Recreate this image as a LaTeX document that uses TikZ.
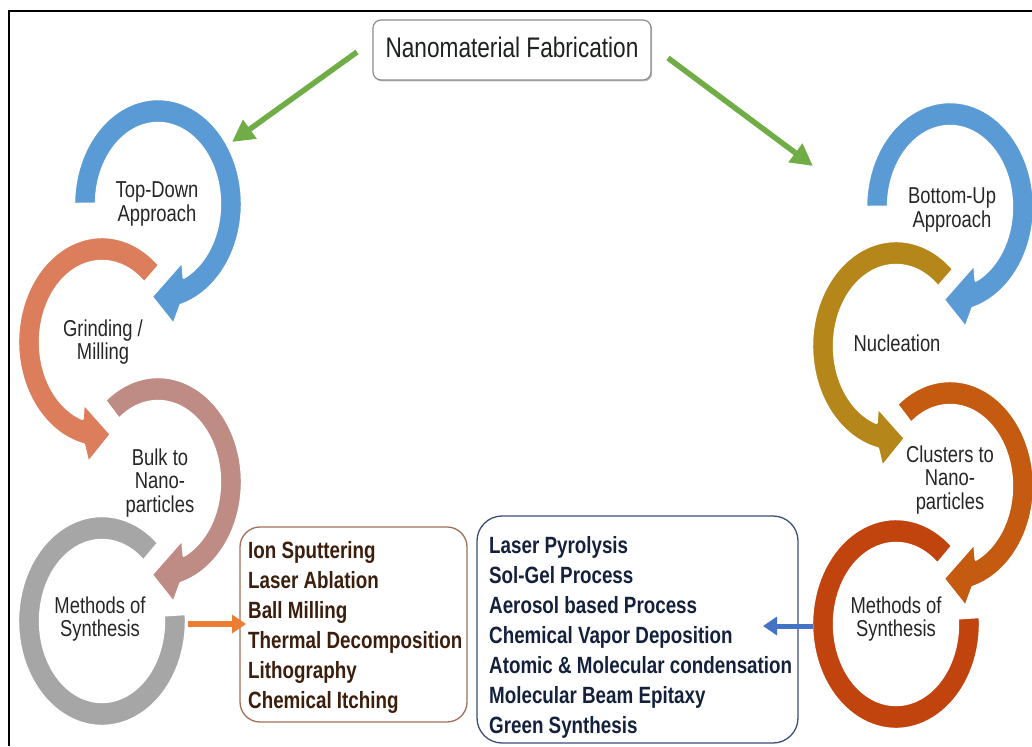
\documentclass[tikz,border=0pt]{standalone}
\usepackage{fontspec}
\setmainfont{Liberation Sans}[FakeStretch=0.8]
\usetikzlibrary{arrows.meta,shadows}
\definecolor{ringblue}{HTML}{5B9BD5}
\definecolor{ringsalmon}{HTML}{DC7D5C}
\definecolor{ringrose}{HTML}{BE8C84}
\definecolor{ringgray}{HTML}{A6A6A6}
\definecolor{ringgold}{HTML}{B5871A}
\definecolor{ringorange}{HTML}{C55A11}
\definecolor{ringred}{HTML}{C1440E}
\definecolor{arrowgreen}{HTML}{70AD47}
\definecolor{arroworange}{HTML}{ED7D31}
\definecolor{arrowblue}{HTML}{4472C4}
\definecolor{labeltext}{HTML}{262626}
\definecolor{titletext}{HTML}{1E221E}
\definecolor{titleframe}{HTML}{8C8C8C}
\definecolor{lboxframe}{HTML}{A0705A}
\definecolor{lboxtext}{HTML}{3C1E0C}
\definecolor{rboxframe}{HTML}{3B4E78}
\definecolor{rboxtext}{HTML}{14213D}
\tikzset{
  ringshape/.style={draw=white, line width=2.4pt, line join=round},
  ringtext/.style={font=\fontsize{23}{23.5}\selectfont, align=center, text=labeltext, inner sep=0pt},
  titlebox/.style={draw=titleframe, line width=1.2pt, rounded corners=8pt, fill=white,
    minimum width=278pt, minimum height=60pt, inner sep=0pt, text depth=6pt,
    font=\fontsize{28.3}{30}\selectfont, text=titletext,
    drop shadow={shadow xshift=1.2pt, shadow yshift=-1.5pt, fill=black, opacity=0.25}},
  listbox/.style={line width=1.3pt, fill=white, inner sep=0pt},
  listtext/.style={font=\bfseries\fontsize{23.5}{30}\selectfont, align=left, inner sep=0pt, anchor=north west},
  greenarrow/.style={draw=arrowgreen, line width=5.5pt, -{Triangle[length=22pt,width=22pt]}},
  sidearrow/.style={line width=5.5pt, -{Triangle[length=14pt,width=18pt]}}
}
% cx, cy, start angle, base angle (inner), base angle (outer), tip angle, colour
\newcommand\ringarrow[7]{%
  \pgfmathsetmacro\rcx{#1}\pgfmathsetmacro\rcy{#2}%
  \pgfmathsetmacro\rts{#3}\pgfmathsetmacro\rtb{#4}%
  \pgfmathsetmacro\rtout{#5}\pgfmathsetmacro\rtip{#6}%
  \pgfmathsetmacro\rto{\rtb+0.696*(\rtout-\rtb)}%
  \pgfmathsetmacro\rti{\rtb+0.261*(\rtout-\rtb)}%
  \path[ringshape, fill=#7]
    plot[domain=0:1,samples=70,variable=\uu] ({\rcx+84*cos(\rts+\uu*(\rto-\rts))},{\rcy-105*sin(\rts+\uu*(\rto-\rts))})
    -- ({\rcx+99.4*cos(\rtout)},{\rcy-121.8*sin(\rtout)})
    -- ({\rcx+73*cos(\rtip)},{\rcy-93*sin(\rtip)})
    -- ({\rcx+48.8*cos(\rtb)},{\rcy-66.6*sin(\rtb)})
    -- plot[domain=0:1,samples=70,variable=\uu] ({\rcx+62*cos(\rti+\uu*(\rts-\rti))},{\rcy-81*sin(\rti+\uu*(\rts-\rti))})
    -- cycle;
}
% cx, cy, start angle, end angle, colour
\newcommand\ringplain[5]{%
  \pgfmathsetmacro\rcx{#1}\pgfmathsetmacro\rcy{#2}%
  \pgfmathsetmacro\rts{#3}\pgfmathsetmacro\rte{#4}%
  \path[ringshape, fill=#5]
    plot[domain=0:1,samples=90,variable=\uu] ({\rcx+84*cos(\rts+\uu*(\rte-\rts))},{\rcy-105*sin(\rts+\uu*(\rte-\rts))})
    -- plot[domain=0:1,samples=90,variable=\uu] ({\rcx+62*cos(\rte+\uu*(\rts-\rte))},{\rcy-81*sin(\rte+\uu*(\rts-\rte))})
    -- cycle;
}
\begin{document}
\begin{tikzpicture}[x=1pt,y=-1pt]
\useasboundingbox (0,0) rectangle (1032,746);
\fill[white] (0,0) rectangle (1032,746);
\draw[line width=2.2pt, line join=miter] (9,746) -- (9,11) -- (1032,11);

% left column rings
\ringplain{102}{621}{48}{364}{ringgray}
\ringarrow{158}{482}{129}{-60}{-81}{-95}{ringrose}
\ringarrow{102}{342}{47}{248}{262}{277}{ringsalmon}
\ringarrow{158}{204}{180}{-60}{-81}{-95}{ringblue}
% right column rings
\ringplain{896}{624}{48}{364}{ringred}
\ringarrow{950}{486}{129}{-60}{-81}{-95}{ringorange}
\ringarrow{896}{346}{47}{248}{262}{277}{ringgold}
\ringarrow{950}{207}{180}{-60}{-81}{-95}{ringblue}

% ring labels
\node[ringtext] (topdown) at (157,204) {Top-Down\\Approach};
\node[ringtext] (grinding) at (103,342) {Grinding /\\Milling};
\node[ringtext] (bulk) at (160,483) {Bulk to\\Nano-\\particles};
\node[ringtext] (lmethods) at (100,619) {Methods of\\Synthesis};
\node[ringtext] (bottomup) at (952,210) {Bottom-Up\\Approach};
\node[ringtext] (nucleation) at (897,343) {Nucleation};
\node[ringtext] (clusters) at (950,480) {Clusters to\\Nano-\\particles};
\node[ringtext] (rmethods) at (896,619) {Methods of\\Synthesis};

% title
\node[titlebox] (title) at (512,50) {Nanomaterial Fabrication};
\coordinate (gls) at (357,52);
\coordinate (gle) at (232,142);
\coordinate (grs) at (668,58);
\coordinate (gre) at (813,166);
\draw[greenarrow] (gls) -- (gle);
\draw[greenarrow] (grs) -- (gre);

% list boxes
\node[listbox, draw=lboxframe, rounded corners=20pt, minimum width=227pt, minimum height=195pt] (lbox) at (353.5,624.5) {};
\node[listtext, text=lboxtext] (ltxt) at (248,541) {Ion Sputtering\\Laser Ablation\\Ball Milling\\Thermal Decomposition\\Lithography\\Chemical Itching};
\node[listbox, draw=rboxframe, rounded corners=25pt, minimum width=321pt, minimum height=227pt] (rbox) at (637.5,629.5) {};
\node[listtext, text=rboxtext] (rtxt) at (489,536.5) {Laser Pyrolysis\\Sol-Gel Process\\Aerosol based Process\\Chemical Vapor Deposition\\Atomic \& Molecular condensation\\Molecular Beam Epitaxy\\Green Synthesis};

% side arrows
\coordinate (oas) at (188,624);
\coordinate (oae) at (246,624);
\draw[sidearrow, draw=arroworange, fill=arroworange] (oas) -- (oae);
\coordinate (bas) at (813,626);
\coordinate (bae) at (763,626);
\draw[sidearrow, draw=arrowblue, fill=arrowblue, line width=5pt] (bas) -- (bae);
\end{tikzpicture}
\end{document}
